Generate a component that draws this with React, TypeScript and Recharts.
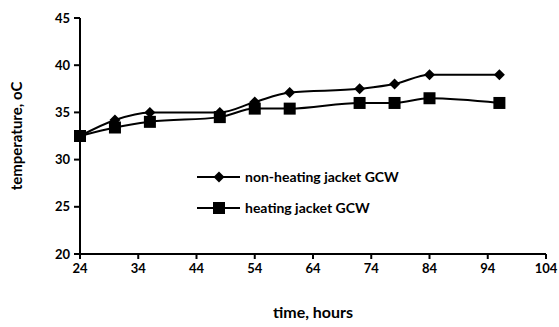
import { Line, LineChart, XAxis, YAxis, Label } from 'recharts'

const hours = [24, 30, 36, 48, 54, 60, 72, 78, 84, 96]
const nonHeating = [32.5, 34.2, 35, 35, 36.1, 37.1, 37.5, 38, 39, 39]
const heating = [32.5, 33.4, 34, 34.5, 35.4, 35.4, 36, 36, 36.5, 36]
const xTicks = [24, 34, 44, 54, 64, 74, 84, 94, 104]
const yTicks = [20, 25, 30, 35, 40, 45]
const seriesNames = ['non-heating jacket GCW', 'heating jacket GCW']

const data = hours.map((h, i) => ({ h, nonHeating: nonHeating[i], heating: heating[i] }))

const font = 'Lato, "Open Sans", sans-serif'

function Diamond(props: any) {
	const { cx, cy } = props
	if (cx == null || cy == null) return null
	const r = 5.5
	return <path d={`M${cx},${cy - r}L${cx + r},${cy}L${cx},${cy + r}L${cx - r},${cy}Z`} fill="#000" />
}

function Square(props: any) {
	const { cx, cy } = props
	if (cx == null || cy == null) return null
	const s = 12
	return <rect x={cx - s / 2} y={cy - s / 2} width={s} height={s} fill="#000" />
}

function LegendBox() {
	return (
		<div style={{ position: 'absolute', left: 195, top: 165 }}>
			<svg width={230} height={60} style={{ display: 'block' }}>
				{seriesNames.map((name, i) => {
					const y = 12 + i * 31
					return (
						<g key={name}>
							<line x1={2} x2={45} y1={y} y2={y} stroke="#000" strokeWidth={2} />
							{i === 0 ? <Diamond cx={24} cy={y} /> : <Square cx={24} cy={y} />}
							<text x={50} y={y + 5} fontFamily={font} fontWeight={700} fontSize={14} fill="#000">
								{name}
							</text>
						</g>
					)
				})}
			</svg>
		</div>
	)
}

export default function App() {
	return (
		<div style={{ position: 'absolute', left: 0, top: 0, width: 559, height: 327, background: '#fff' }}>
			<LineChart width={559} height={327} data={data} margin={{ top: 18, right: 13, left: 30, bottom: 23 }}>
				<XAxis
					dataKey="h"
					type="number"
					domain={[24, 104]}
					ticks={xTicks}
					stroke="#000"
					strokeWidth={2}
					tickSize={5}
					tickMargin={5}
					tick={{ fill: '#000', fontFamily: font, fontWeight: 700, fontSize: 13 }}
					height={50}
				>
					<Label
						value="time, hours"
						position="insideBottom"
						offset={-14}
						style={{ fill: '#000', fontFamily: font, fontWeight: 700, fontSize: 16 }}
					/>
				</XAxis>
				<YAxis
					type="number"
					domain={[20, 45]}
					ticks={yTicks}
					stroke="#000"
					strokeWidth={2}
					tickSize={6}
					tickMargin={4}
					width={50}
					tick={{ fill: '#000', fontFamily: font, fontWeight: 700, fontSize: 13 }}
				>
					<Label
						content={() => (
							<text
								x={22}
								y={136}
								transform="rotate(-90 22 136)"
								textAnchor="middle"
								fontFamily={font}
								fontWeight={700}
								fontSize={15}
								fill="#000"
							>
								temperature, oC
							</text>
						)}
					/>
				</YAxis>
				<Line
					type="monotone"
					dataKey="nonHeating"
					name={seriesNames[0]}
					stroke="#000"
					strokeWidth={2}
					dot={<Diamond />}
					activeDot={false}
					isAnimationActive={false}
				/>
				<Line
					type="monotone"
					dataKey="heating"
					name={seriesNames[1]}
					stroke="#000"
					strokeWidth={2}
					dot={<Square />}
					activeDot={false}
					isAnimationActive={false}
				/>
			</LineChart>
			<LegendBox />
		</div>
	)
}
